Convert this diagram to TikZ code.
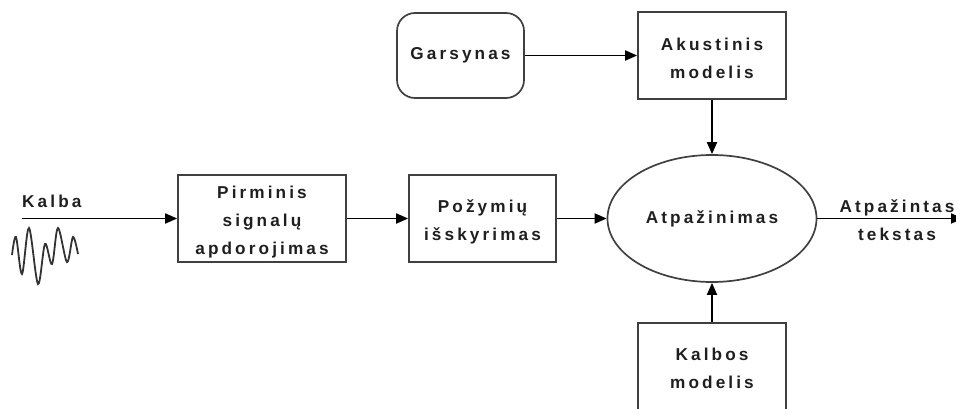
\documentclass[tikz,border=0pt]{standalone}
\usepackage{fontspec}
\usetikzlibrary{shapes.geometric,arrows.meta}
\newfontfamily\diagfont{Liberation Sans}[LetterSpace=18]
% invisible strut that lowers a multi-line label a little inside its box
\newcommand{\toppad}{\rule{0pt}{19pt}}
\begin{document}
\begin{tikzpicture}[x=1pt,y=-1pt,
  every node/.style={font=\diagfont\bfseries\fontsize{17.2}{28}\selectfont, text=black!88},
  block/.style={draw=black!75, line width=1.7pt, align=center, inner sep=0pt},
  flow/.style={line width=1.8pt, -{Triangle[length=12pt,width=10pt]}}]
\clip (0,0) rectangle (956,409);

% processing blocks
\node[block, rounded corners=18pt, minimum width=127pt, minimum height=85pt] (gars) at (460.5,55.5) {Garsynas};
\node[block, minimum width=148pt, minimum height=87pt] (akust) at (712,55.5) {\toppad Akustinis\\modelis};
\node[block, minimum width=168pt, minimum height=87pt] (pirm) at (262,218.5) {\toppad Pirminis\\signalų\\apdorojimas};
\node[block, minimum width=147pt, minimum height=87pt] (pozym) at (482.5,218.5) {\toppad Požymių\\išskyrimas};
\node[block, ellipse, minimum width=209pt, minimum height=127pt] (atp) at (712,218.5) {Atpažinimas};
\node[block, minimum width=148pt, minimum height=90pt] (kalbos) at (712,368) {Kalbos\\modelis};

% input and output
\coordinate (src) at (22,218.5);
\coordinate (sink) at (963,218.5);
\node[anchor=base west, inner sep=0pt] (kalba) at (22,207) {Kalba};
\node[align=center, inner sep=0pt] (outtxt) at (897,220) {Atpažintas\\tekstas};

% speech waveform
\draw[line width=1.8pt, black!80] plot[smooth, tension=0.55] coordinates
  {(12,255) (16,237) (22,274) (29,228) (38,284) (45,244) (52,264) (58,228) (67,262) (73,237) (78,254)};

% connectors
\draw[flow] (src) -- (pirm.west);
\draw[flow] (pirm) -- (pozym);
\draw[flow] (pozym) -- (atp);
\draw[flow] (gars) -- (akust);
\draw[flow] (akust.south) -- (atp.north);
\draw[flow] (kalbos.north) -- (atp.south);
\draw[flow] (atp.east) -- (sink);
\end{tikzpicture}
\end{document}
